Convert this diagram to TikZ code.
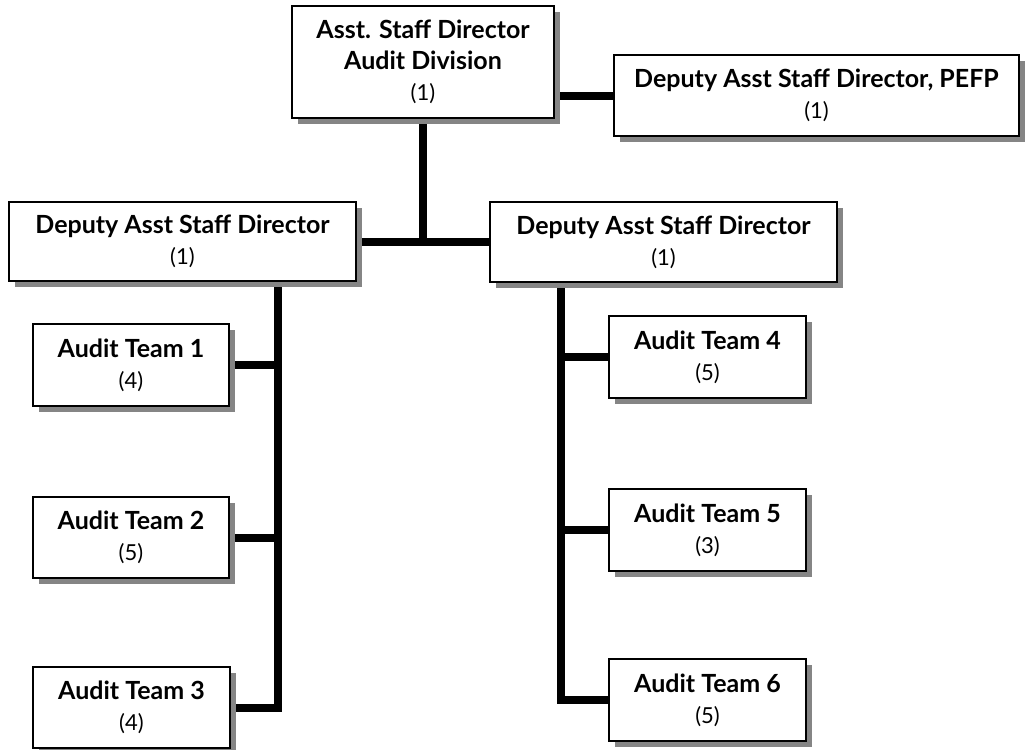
\documentclass[tikz,border=0pt]{standalone}
\usepackage{fontspec}
\setmainfont{Lato}
\usetikzlibrary{shadows}
\pgfdeclarelayer{paper}
\pgfdeclarelayer{background}
\pgfsetlayers{paper,background,main}
\definecolor{shadowgray}{HTML}{858585}
\tikzset{
  x=1pt, y=-1pt,
  box/.style={draw=black, line width=1.4pt, fill=white, rectangle, inner sep=0pt,
    align=center, font=\fontsize{25}{31}\selectfont,
    drop shadow={shadow xshift=6pt, shadow yshift=-6pt, fill=shadowgray, opacity=1}},
  conn/.style={line width=8pt, line join=miter, draw=black},
}
\newcommand{\hd}[1]{\textbf{#1}}
\newcommand{\cnt}[1]{{\fontsize{22}{31}\selectfont #1}}
\begin{document}
\begin{tikzpicture}
\useasboundingbox (0,0) rectangle (1026,750);
\begin{pgfonlayer}{paper}
\fill[white] (0,0) rectangle (1026,750);
\end{pgfonlayer}
% coordinates for vertical trunks
\coordinate (lvx) at (278,0);
\coordinate (rvx) at (561,0);
% nodes
\path
  (423,62) node[box, minimum width=262pt, minimum height=112pt] (top) {\hd{Asst. Staff Director}\\\hd{Audit Division}\\\cnt{(1)}}
  (816.5,95.5) node[box, minimum width=405pt, minimum height=81pt] (pefp) {\hd{Deputy Asst Staff Director, PEFP}\\\cnt{(1)}}
  (182.5,241.5) node[box, minimum width=347pt, minimum height=79pt] (ld) {\hd{Deputy Asst Staff Director}\\\cnt{(1)}}
  (663.5,242) node[box, minimum width=347pt, minimum height=80pt] (rd) {\hd{Deputy Asst Staff Director}\\\cnt{(1)}}
  (131,365) node[box, minimum width=196pt, minimum height=82pt] (t1) {\hd{Audit Team 1}\\\cnt{(4)}}
  (131,537.5) node[box, minimum width=196pt, minimum height=81pt] (t2) {\hd{Audit Team 2}\\\cnt{(5)}}
  (131.5,707.5) node[box, minimum width=197pt, minimum height=81pt] (t3) {\hd{Audit Team 3}\\\cnt{(4)}}
  (707.5,357) node[box, minimum width=197pt, minimum height=82pt] (t4) {\hd{Audit Team 4}\\\cnt{(5)}}
  (707.5,530) node[box, minimum width=197pt, minimum height=82pt] (t5) {\hd{Audit Team 5}\\\cnt{(3)}}
  (707.5,700) node[box, minimum width=197pt, minimum height=82pt] (t6) {\hd{Audit Team 6}\\\cnt{(5)}};
% connectors drawn behind boxes
\begin{pgfonlayer}{background}
  \draw[conn] (pefp.west -| top.east) -- (pefp.west);
  \draw[conn] (top.south) -- (top.south |- rd.west);
  \draw[conn] (ld.east |- rd.west) -- (rd.west);
  \draw[conn] (ld.south -| lvx) -- (t3.east -| lvx) -- (t3.east);
  \draw[conn] (t1.east) -- (t1.east -| lvx);
  \draw[conn] (t2.east) -- (t2.east -| lvx);
  \draw[conn] (rd.south -| rvx) -- (t6.west -| rvx) -- (t6.west);
  \draw[conn] (t4.west) -- (t4.west -| rvx);
  \draw[conn] (t5.west) -- (t5.west -| rvx);
\end{pgfonlayer}
\end{tikzpicture}
\end{document}
